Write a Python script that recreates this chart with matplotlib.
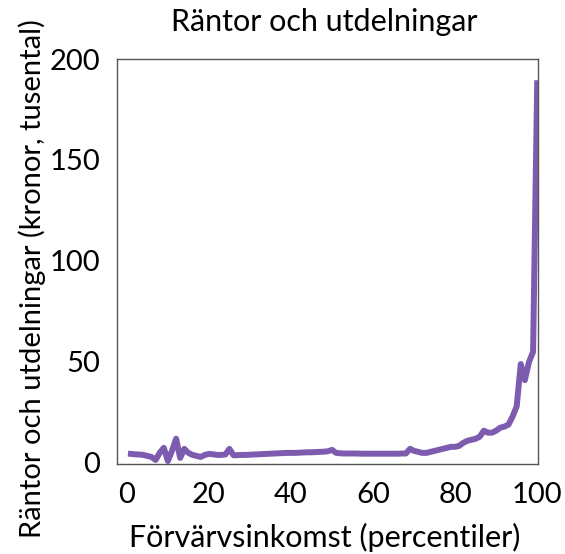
import numpy as np
import matplotlib
matplotlib.use('Agg')
import matplotlib.pyplot as plt

# percentiles of disposable income, 1..100
percentiles = list(range(1, 101))

# interest and dividends, thousands of SEK
rantor = [
	4.5, 4.3, 4.2, 4.0, 3.5, 3.0, 1.5, 5.0, 7.5, 1.0,
	6.0, 12.0, 2.5, 7.0, 5.0, 4.0, 3.5, 3.0, 4.0, 4.5,
	4.3, 4.0, 4.0, 4.2, 7.0, 3.8, 3.9, 4.0, 4.0, 4.1,
	4.2, 4.3, 4.4, 4.5, 4.6, 4.7, 4.8, 4.9, 5.0, 5.0,
	5.0, 5.1, 5.2, 5.3, 5.3, 5.4, 5.5, 5.6, 5.8, 6.5,
	5.0, 4.8, 4.7, 4.7, 4.7, 4.7, 4.6, 4.6, 4.6, 4.6,
	4.6, 4.6, 4.6, 4.6, 4.6, 4.6, 4.7, 4.7, 7.0, 6.0,
	5.5, 5.0, 5.0, 5.5, 6.0, 6.5, 7.0, 7.5, 8.0, 8.0,
	8.5, 10.0, 11.0, 11.5, 12.0, 13.0, 16.0, 15.0, 15.0, 16.0,
	17.5, 18.0, 19.0, 23.0, 28.0, 49.0, 41.0, 50.0, 55.0, 188.0,
]

xticks = [0, 20, 40, 60, 80, 100]
yticks = [0, 50, 100, 150, 200]

plt.rcParams['font.family'] = ['Lato', 'DejaVu Sans']

W, H = 565, 554
fig = plt.figure(figsize=(W/100, H/100), dpi=100)
ax = fig.add_axes([117/W, 1 - 464/H, (538-117)/W, (464-59)/H])

ax.plot(percentiles, rantor, color='#7d5cb0', linewidth=4.3, solid_joinstyle='round')

ax.set_xlim(-2.4, 100.2)
ax.set_ylim(-0.5, 200)
ax.set_xticks(xticks)
ax.set_yticks(yticks)
ax.tick_params(length=0, labelsize=21, colors='black')
ax.tick_params(axis='x', pad=13)
ax.tick_params(axis='y', pad=12)
for s in ax.spines.values():
	s.set_color('#555555')
	s.set_linewidth(1.0)

# labels placed in figure pixels to match the reference
fig.text(325/W, 1 - 537/H, 'Förvärvsinkomst (percentiler)', fontsize=22, ha='center', va='center')
fig.text(32/W, 1 - 279/H, 'Räntor och utdelningar (kronor, tusental)', fontsize=21,
	rotation=90, ha='center', va='center')
fig.text(324/W, 1 - 22/H, 'Räntor och utdelningar', fontsize=22, ha='center', va='center')

fig.savefig('out.png', dpi=100)
plt.close(fig)
